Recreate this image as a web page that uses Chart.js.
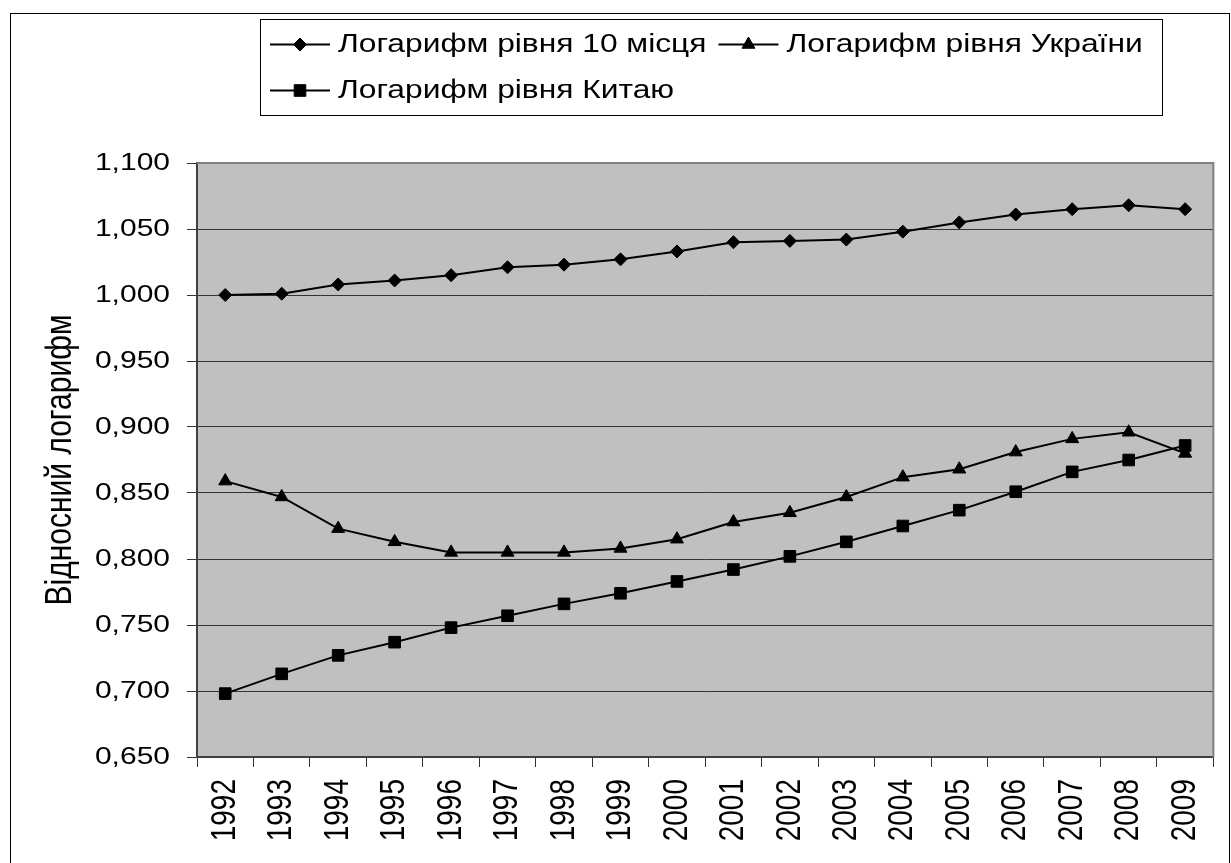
<!DOCTYPE html>
<html>
<head>
<meta charset="utf-8">
<script src="https://cdn.jsdelivr.net/npm/chart.js@4.4.1/dist/chart.umd.min.js"></script>
<style>
html,body{margin:0;padding:0;background:#fff;overflow:hidden;}
canvas{display:block;}
</style>
</head>
<body>
<canvas id="c" width="1231" height="863" style="width:1231px;height:863px"></canvas>
<script>
// ---- data ----
const years = ['1992','1993','1994','1995','1996','1997','1998','1999','2000','2001','2002','2003','2004','2005','2006','2007','2008','2009'];
const level10 = [1.000, 1.001, 1.008, 1.011, 1.015, 1.021, 1.023, 1.027, 1.033, 1.040, 1.041, 1.042, 1.048, 1.055, 1.061, 1.065, 1.068, 1.065];
const ukraine = [0.859, 0.847, 0.823, 0.813, 0.805, 0.805, 0.805, 0.808, 0.815, 0.828, 0.835, 0.847, 0.862, 0.868, 0.881, 0.891, 0.896, 0.880];
const china   = [0.698, 0.713, 0.727, 0.737, 0.748, 0.757, 0.766, 0.774, 0.783, 0.792, 0.802, 0.813, 0.825, 0.837, 0.851, 0.866, 0.875, 0.886];
const seriesNames = ['Логарифм рівня 10 місця', 'Логарифм рівня України', 'Логарифм рівня Китаю'];
const yTickLabels = ['0,650','0,700','0,750','0,800','0,850','0,900','0,950','1,000','1,050','1,100'];
const yMin = 0.65, yMax = 1.1, yStep = 0.05;
const yAxisTitle = 'Відносний логарифм';

const FONT = '"Liberation Sans", Arial, sans-serif';
const TEXT_STRETCH = 1.25; // horizontal text scaling seen in the reference

const canvas = document.getElementById('c');
const ctx = canvas.getContext('2d');
// stretch all text horizontally (screen space) around its anchor point
const origFill = ctx.fillText.bind(ctx);
ctx.fillText = function(text, x, y, maxWidth) {
  const m = ctx.getTransform();
  const px = m.a * x + m.c * y + m.e;
  const n = new DOMMatrix([TEXT_STRETCH, 0, 0, 1, px * (1 - TEXT_STRETCH), 0]).multiply(m);
  ctx.save();
  ctx.setTransform(n);
  if (maxWidth !== undefined) origFill(text, x, y, maxWidth); else origFill(text, x, y);
  ctx.restore();
};

function drawMarker(c, style, r, x, y) {
  c.beginPath();
  if (style === 'rectRot') {
    c.moveTo(x - r, y); c.lineTo(x, y - r); c.lineTo(x + r, y); c.lineTo(x, y + r); c.closePath();
  } else if (style === 'triangle') {
    c.moveTo(x, y - r); c.lineTo(x + r * 0.866, y + r / 2); c.lineTo(x - r * 0.866, y + r / 2); c.closePath();
  } else {
    const s = r * Math.SQRT1_2;
    c.rect(x - s, y - s, 2 * s, 2 * s);
  }
  c.fillStyle = '#000'; c.fill();
  c.lineWidth = 1; c.strokeStyle = '#000'; c.stroke();
}

const framePlugin = {
  id: 'frame',
  beforeDraw(chart) {
    const c = chart.ctx, a = chart.chartArea;
    c.save();
    c.fillStyle = '#fff';
    c.fillRect(0, 0, chart.width, chart.height);
    c.strokeStyle = '#000'; c.lineWidth = 1;
    c.strokeRect(10.5, 13.5, 1219, 900);
    c.fillStyle = '#C0C0C0';
    c.fillRect(a.left, a.top, a.right - a.left, a.bottom - a.top);
    c.restore();
  },
  beforeDatasetsDraw(chart) {
    const c = chart.ctx, a = chart.chartArea;
    c.save();
    c.strokeStyle = '#808080'; c.lineWidth = 2;
    c.beginPath();
    c.moveTo(a.left, a.top); c.lineTo(a.right, a.top); c.lineTo(a.right, a.bottom);
    c.stroke();
    c.restore();
  },
  afterDraw(chart) {
    const c = chart.ctx;
    const ds = chart.data.datasets;
    c.save();
    c.font = '25.4px ' + FONT;
    c.textBaseline = 'middle';
    c.textAlign = 'left';
    const rows = [[0, 1], [2]];
    const rowY = [44.5, 90.5];
    const x0 = 270, lineLen = 60, textGap = 8, itemGap = 12;
    let maxRight = 0;
    rows.forEach((row, r) => {
      let x = x0;
      const y = rowY[r];
      row.forEach(i => {
        const d = ds[i];
        c.strokeStyle = '#000'; c.lineWidth = 2;
        c.beginPath(); c.moveTo(x, y); c.lineTo(x + lineLen, y); c.stroke();
        drawMarker(c, d.pointStyle, d.pointRadius, x + lineLen / 2, y);
        const tx = x + lineLen + textGap;
        c.fillStyle = '#000';
        c.fillText(d.label, tx, y);
        const end = tx + c.measureText(d.label).width * TEXT_STRETCH;
        maxRight = Math.max(maxRight, end);
        x = end + itemGap;
      });
    });
    c.strokeStyle = '#000'; c.lineWidth = 1;
    c.strokeRect(260.5, 19.5, Math.round(maxRight + 19) - 260, 96);
    c.restore();
  }
};

function mkDataset(label, data, style, radius) {
  return {
    label, data,
    borderColor: '#000', backgroundColor: '#000', borderWidth: 2,
    pointStyle: style, pointRadius: radius, pointHoverRadius: radius,
    pointBackgroundColor: '#000', pointBorderColor: '#000', pointBorderWidth: 1,
    tension: 0, fill: false
  };
}

new Chart(ctx, {
  type: 'line',
  data: {
    labels: years,
    datasets: [
      mkDataset(seriesNames[0], level10, 'rectRot', 6.5),
      mkDataset(seriesNames[1], ukraine, 'triangle', 7.5),
      mkDataset(seriesNames[2], china, 'rect', 8.2)
    ]
  },
  options: {
    responsive: false,
    animation: false,
    devicePixelRatio: 1,
    layout: { padding: { left: 0, right: 8.5, top: 163, bottom: 0 } },
    plugins: { legend: { display: false }, tooltip: { enabled: false } },
    scales: {
      x: {
        type: 'category',
        offset: true,
        grid: { offset: true, drawOnChartArea: false, drawTicks: true, tickLength: 10, color: '#333', lineWidth: 1 },
        border: { display: true, color: '#404040', width: 2 },
        ticks: { autoSkip: false, minRotation: 90, maxRotation: 90, padding: 12, color: '#000', font: { family: FONT, size: 28 } },
        afterFit: s => { s.height = 106; }
      },
      y: {
        min: yMin, max: yMax,
        grid: { color: '#333', lineWidth: 1, drawTicks: true, tickLength: 10, tickColor: '#333' },
        border: { display: true, color: '#404040', width: 2 },
        ticks: {
          stepSize: yStep, padding: 17, color: '#000', font: { family: FONT, size: 24 },
          callback: v => yTickLabels[Math.round((v - yMin) / yStep)]
        },
        title: { display: true, text: yAxisTitle, color: '#000', font: { family: FONT, size: 30 }, padding: { top: 43, bottom: 0 } },
        afterFit: s => { s.width = 197; }
      }
    }
  },
  plugins: [framePlugin]
});
</script>
</body>
</html>
